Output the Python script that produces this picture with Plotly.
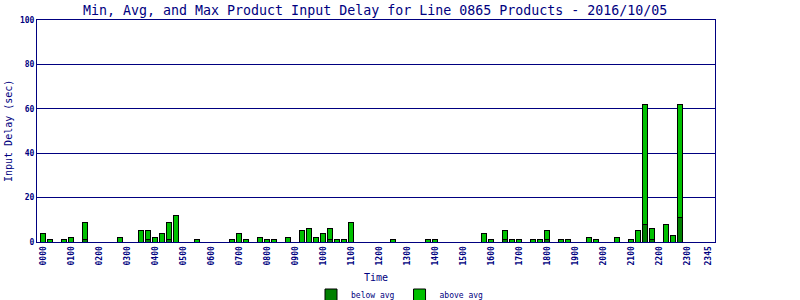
import plotly.graph_objects as go

# 15-minute time slots
slots = [f"{h:02d}{m:02d}" for h in range(24) for m in (0, 15, 30, 45)]

# Maximum delay per slot (sec)
max_delay = [
    4, 1, 0, 1,    # 00
    2, 0, 9, 0,    # 01
    0, 0, 0, 2,    # 02
    0, 0, 5, 5,    # 03
    2, 4, 9, 12,   # 04
    0, 0, 1, 0,    # 05
    0, 0, 0, 1,    # 06
    4, 1, 0, 2,    # 07
    1, 1, 0, 2,    # 08
    0, 5, 6, 2,    # 09
    4, 6, 1, 1,    # 10
    9, 0, 0, 0,    # 11
    0, 0, 1, 0,    # 12
    0, 0, 0, 1,    # 13
    1, 0, 0, 0,    # 14
    0, 0, 0, 4,    # 15
    1, 0, 5, 1,    # 16
    1, 0, 1, 1,    # 17
    5, 0, 1, 1,    # 18
    0, 0, 2, 1,    # 19
    0, 0, 2, 0,    # 20
    1, 5, 62, 6,   # 21
    0, 8, 3, 62,   # 22
    0, 0, 0, 0,    # 23
]

# Below-average portion per slot (sec)
below_avg = [
    0, 0, 0, 0,
    0, 0, 1, 0,
    0, 0, 0, 0,
    0, 0, 0, 1,
    0, 0, 1, 0,
    0, 0, 0, 0,
    0, 0, 0, 0,
    0, 0, 0, 0,
    0, 0, 0, 0,
    0, 0, 0, 0,
    0, 1, 0, 0,
    0, 0, 0, 0,
    0, 0, 0, 0,
    0, 0, 0, 0,
    0, 0, 0, 0,
    0, 0, 0, 0,
    0, 0, 1, 0,
    0, 0, 0, 0,
    1, 0, 0, 0,
    0, 0, 0, 0,
    0, 0, 0, 0,
    0, 0, 8, 1,
    0, 0, 0, 11,
    0, 0, 0, 0,
]

above_avg = [mx - b for mx, b in zip(max_delay, below_avg)]

tick_labels = [f"{h:02d}00" for h in range(24)] + ["2345"]
y_ticks = [0, 20, 40, 60, 80, 100]

NAVY = "#000080"
FONT = "DejaVu Sans Mono"

def nz(v):
    return [x if x else None for x in v]

fig = go.Figure()
fig.add_trace(go.Bar(
    x=slots, y=nz(below_avg), name="below avg",
    marker=dict(color="#008000", line=dict(color="black", width=1)),
))
fig.add_trace(go.Bar(
    x=slots, y=nz(above_avg), name="above avg",
    marker=dict(color="#00c000", line=dict(color="black", width=1)),
))

fig.update_layout(
    barmode="stack",
    bargap=0.22,
    width=800, height=300,
    margin=dict(l=37, r=85, t=20, b=58),
    paper_bgcolor="white",
    plot_bgcolor="white",
    font=dict(family=FONT, color=NAVY),
    title=dict(
        text="Min, Avg, and Max Product Input Delay for Line 0865 Products - 2016/10/05",
        font=dict(family=FONT, size=13.3, color=NAVY),
        x=0.469, xanchor="center", y=1 - 10 / 300, yref="container", yanchor="middle",
    ),
    xaxis=dict(
        type="category",
        categoryorder="array", categoryarray=slots,
        tickmode="array", tickvals=tick_labels, ticktext=tick_labels,
        tickangle=-90,
        tickfont=dict(family=FONT, size=8, color=NAVY, weight="bold"),
        ticks="", ticklen=0,
        range=[-0.86, 96.0],
        showline=True, linecolor=NAVY, linewidth=1, mirror=True,
        showgrid=False, zeroline=False,
    ),
    yaxis=dict(
        range=[0, 100],
        tickmode="array", tickvals=y_ticks,
        tickfont=dict(family=FONT, size=8, color=NAVY, weight="bold"),
        ticks="", ticklen=0,
        showline=True, linecolor=NAVY, linewidth=1, mirror=True,
        showgrid=True, gridcolor=NAVY, gridwidth=1,
        zeroline=False,
    ),
    legend=dict(
        orientation="h",
        x=0.5, xref="container", xanchor="center",
        y=5 / 300, yref="container", yanchor="middle",
        font=dict(family=FONT, size=8, color=NAVY),
        itemwidth=30,
        traceorder="normal",
    ),
    annotations=[
        dict(text="Time", xref="paper", yref="paper", x=0.5, y=(242 - 277) / 222,
             xanchor="center", yanchor="middle", showarrow=False,
             font=dict(family=FONT, size=10, color=NAVY)),
        dict(text="Input Delay (sec)", xref="paper", yref="paper", x=(8 - 37) / 678, y=0.5,
             xanchor="center", yanchor="middle", textangle=-90, showarrow=False,
             font=dict(family=FONT, size=10, color=NAVY)),
    ],
)

fig.write_html("out.html")
